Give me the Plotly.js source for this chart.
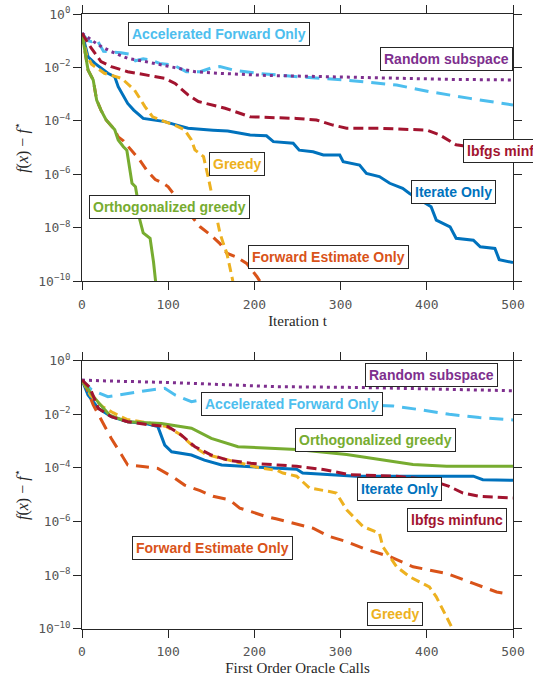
<!DOCTYPE html>
<html>
<head>
<meta charset="utf-8">
<script src="https://cdn.plot.ly/plotly-3.0.1.min.js"></script>
<style>html,body{margin:0;padding:0;background:#fff;}#plot{width:533px;height:677px;}</style>
</head>
<body>
<div id="plot"></div>
<script>
// ---------- Data (exponents: log10 of f(x) - f*) ----------
// Top panel: x = iteration t
var topIterateX = [0,7,15,30,38,42,53,60,71,96,110,123,152,169,195,214,222,245,252,268,280,299,303,322,330,345,357,372,380,405,411,427,434,454,462,479,484,500];
var topIterateE = [-0.72,-1.6,-1.85,-2.22,-2.35,-2.72,-3.35,-3.6,-3.91,-4.03,-4.16,-4.28,-4.35,-4.38,-4.53,-4.56,-4.78,-4.84,-5.1,-5.16,-5.28,-5.28,-5.53,-5.66,-5.97,-6.09,-6.34,-6.53,-6.72,-7.22,-7.72,-7.97,-8.4,-8.47,-8.72,-8.78,-9.2,-9.31];
var topForwardX = [0,3,7,13,17,22,28,38,42,48,55,67,75,85,94,100,110,125,137,150,160,168,179,191,203,212];
var topForwardE = [-0.72,-1.35,-2.1,-2.47,-3.22,-3.6,-3.97,-4.34,-4.6,-4.75,-5.0,-5.47,-5.85,-6.2,-6.34,-6.47,-6.9,-7.5,-7.97,-8.3,-8.6,-8.96,-9.1,-9.34,-9.84,-10.3];
var topAccelX = [0,7,11,17,25,35,45,55,62,71,80,90,106,121,137,150,160,176,203,250,303,365,403,450,500];
var topAccelE = [-0.72,-1.0,-1.04,-0.95,-1.4,-1.42,-1.45,-1.5,-1.75,-1.68,-1.72,-1.85,-1.91,-2.16,-2.16,-2.02,-1.97,-2.1,-2.22,-2.35,-2.47,-2.66,-2.91,-3.16,-3.41];
var topGreedyX = [0,5,11,26,46,61,73,82,96,110,119,127,131,141,147,154,160,164,168,175,178];
var topGreedyE = [-0.72,-1.5,-1.88,-2.22,-2.41,-2.85,-3.47,-3.85,-4.03,-4.2,-4.34,-4.72,-5.09,-5.34,-6.2,-7.3,-8.2,-8.6,-8.96,-10.0,-10.4];
var topOrthoX = [0,3,7,13,17,22,28,38,42,48,52,58,62,64,67,71,79,83,85,87];
var topOrthoE = [-0.72,-1.35,-2.1,-2.47,-3.22,-3.6,-3.97,-4.34,-4.72,-4.97,-5.1,-6.34,-6.47,-6.84,-7.7,-8.2,-8.4,-9.3,-10.0,-10.5];
var topRandomX = [0,10,19,34,53,73,92,111,131,158,214,287,365,430,500];
var topRandomE = [-0.72,-0.95,-1.16,-1.41,-1.66,-1.78,-1.91,-2.03,-2.16,-2.22,-2.3,-2.35,-2.41,-2.45,-2.47];
var topLbfgsX = [0,5,11,22,34,53,73,96,108,123,135,150,166,195,214,249,272,291,307,345,400,415,434,445,470,500];
var topLbfgsE = [-0.72,-1.0,-1.29,-1.78,-1.97,-2.16,-2.28,-2.41,-2.6,-3.03,-3.28,-3.41,-3.53,-3.85,-3.87,-3.91,-3.97,-4.16,-4.28,-4.28,-4.35,-4.53,-4.9,-4.95,-5.0,-5.05];

// Bottom panel: x = first order oracle calls
var botIterateX = [0,7,19,34,53,73,88,96,104,127,142,162,196,227,249,256,287,318,384,454,465,500];
var botIterateE = [-0.72,-1.28,-1.78,-2.09,-2.28,-2.34,-2.46,-3.15,-3.4,-3.52,-3.71,-3.89,-3.96,-4.02,-4.05,-4.19,-4.25,-4.31,-4.31,-4.31,-4.44,-4.46];
var botForwardX = [0,5,13,22,34,46,53,73,88,108,119,137,152,171,183,198,212,225,268,287,307,326,357,384,423,454,481,492];
var botForwardE = [-0.72,-1.0,-1.65,-2.21,-2.9,-3.52,-3.89,-3.96,-4.02,-4.39,-4.64,-4.85,-5.06,-5.19,-5.5,-5.65,-5.8,-5.9,-6.25,-6.56,-6.75,-7.0,-7.31,-7.69,-7.94,-8.31,-8.63,-8.69];
var botAccelX = [0,11,30,53,80,96,108,127,141,200,250,300,361,388,426,461,500];
var botAccelE = [-0.72,-1.09,-1.34,-1.22,-1.09,-1.03,-1.28,-1.53,-1.44,-1.5,-1.5,-1.6,-1.69,-1.81,-2.0,-2.12,-2.21];
var botGreedyX = [0,10,24,36,52,75,98,114,129,144,168,206,227,233,249,264,287,295,307,326,345,349,365,380,403,411,421,429,433];
var botGreedyE = [-0.72,-1.3,-1.72,-1.94,-2.19,-2.31,-2.46,-2.75,-3.19,-3.5,-3.69,-4.0,-4.1,-4.19,-4.31,-4.75,-4.88,-4.94,-5.56,-6.19,-6.44,-6.94,-7.69,-8.06,-8.44,-8.81,-9.44,-9.94,-10.2];
var botOrthoX = [0,11,21,32,53,92,127,150,181,214,249,307,345,384,423,500];
var botOrthoE = [-0.72,-1.25,-1.63,-2.03,-2.28,-2.34,-2.52,-2.9,-3.21,-3.27,-3.31,-3.5,-3.69,-3.87,-3.94,-3.94];
var botRandomX = [0,21,98,200,227,326,403,500];
var botRandomE = [-0.72,-0.75,-0.81,-0.94,-0.97,-1.0,-1.06,-1.12];
var botLbfgsX = [0,9,19,34,53,80,100,115,131,150,169,196,227,249,280,310,365,403,426,442,461,500];
var botLbfgsE = [-0.72,-1.0,-1.78,-2.09,-2.28,-2.4,-2.46,-2.77,-3.21,-3.52,-3.71,-3.83,-3.89,-3.94,-4.06,-4.25,-4.31,-4.44,-4.69,-4.94,-5.06,-5.12];

// Tick labels
var yTickExps = [-10,-8,-6,-4,-2,0];
var yTickText = ['10<sup>\u221210</sup>','10<sup>\u22128</sup>','10<sup>\u22126</sup>','10<sup>\u22124</sup>','10<sup>\u22122</sup>','10<sup>0</sup>'];
var xTickVals = [0,100,200,300,400,500];

// Series names / label texts
var seriesNames = ['Iterate Only','Forward Estimate Only','Accelerated Forward Only','Greedy','Orthogonalized greedy','Random subspace','lbfgs minfunc'];

// ---------- Styles ----------
var colors = {
  iterate:'#0072BD', forward:'#D95319', accel:'#4DBEEE', greedy:'#EDB120',
  ortho:'#77AC30', random:'#7E2F8E', lbfgs:'#A2142F'
};
function pw(v){ return v.map(function(e){ return Math.pow(10,e); }); }

function mk(x, e, color, dash, xa, ya, name){
  return {x:x, y:pw(e), type:'scatter', mode:'lines', name:name,
    line:{color:color, width:3, dash:dash}, xaxis:xa, yaxis:ya, hoverinfo:'skip'};
}

var traces = [
  mk(topIterateX, topIterateE, colors.iterate, 'solid', 'x', 'y', seriesNames[0]),
  mk(topForwardX, topForwardE, colors.forward, '11px,7px', 'x', 'y', seriesNames[1]),
  mk(topAccelX, topAccelE, colors.accel, '14px,8px', 'x', 'y', seriesNames[2]),
  mk(topGreedyX, topGreedyE, colors.greedy, '9px,5px', 'x', 'y', seriesNames[3]),
  mk(topOrthoX, topOrthoE, colors.ortho, 'solid', 'x', 'y', seriesNames[4]),
  mk(topRandomX, topRandomE, colors.random, '3px,4px', 'x', 'y', seriesNames[5]),
  mk(topLbfgsX, topLbfgsE, colors.lbfgs, '10px,5px', 'x', 'y', seriesNames[6]),
  mk(botIterateX, botIterateE, colors.iterate, 'solid', 'x2', 'y2', seriesNames[0]),
  mk(botForwardX, botForwardE, colors.forward, '13px,8px', 'x2', 'y2', seriesNames[1]),
  mk(botAccelX, botAccelE, colors.accel, '14px,8px', 'x2', 'y2', seriesNames[2]),
  mk(botGreedyX, botGreedyE, colors.greedy, '9px,5px', 'x2', 'y2', seriesNames[3]),
  mk(botOrthoX, botOrthoE, colors.ortho, 'solid', 'x2', 'y2', seriesNames[4]),
  mk(botRandomX, botRandomE, colors.random, '3px,4px', 'x2', 'y2', seriesNames[5]),
  mk(botLbfgsX, botLbfgsE, colors.lbfgs, '10px,5px', 'x2', 'y2', seriesNames[6])
];

var W = 533, H = 677;
function px(v){ return v / W; }
function py(v){ return 1 - v / H; }

var axisColor = '#262626';
var tickFont = {family:'DejaVu Sans Mono, monospace', size:13, color:'#555555'};
var titleFont = {family:'Liberation Serif, serif', size:15, color:'#262626'};

function xAxis(anchor, title){
  return {domain:[px(82), px(513)], anchor:anchor, range:[0,500], tickmode:'array', tickvals:xTickVals,
    ticks:'outside', ticklen:8, tickwidth:1, tickcolor:axisColor, showline:true, linecolor:axisColor,
    linewidth:1, mirror:'ticks', showgrid:false, zeroline:false, tickfont:tickFont, ticklabelstandoff:3,
    title:{text:title, font:titleFont, standoff:4}};
}
function yAxis(domain, anchor){
  return {domain:domain, anchor:anchor, type:'log', range:[-10,0], tickmode:'array',
    tickvals:pw(yTickExps), ticktext:yTickText, ticks:'outside', ticklen:8, tickwidth:1, tickcolor:axisColor,
    showline:true, linecolor:axisColor, linewidth:1, mirror:'ticks', showgrid:false, zeroline:false,
    tickfont:tickFont,
    title:{text:'<i>f</i>(<i>x</i>) \u2212 <i>f</i><sup>\u22c6</sup>', font:{family:'Liberation Serif, serif', size:16, color:'#262626'}, standoff:5}};
}

function label(text, color, left, top){
  return {text:'<b>'+text+'</b>', xref:'paper', yref:'paper', x:px(left), y:py(top),
    xanchor:'left', yanchor:'top', showarrow:false, bgcolor:'#ffffff', bordercolor:'#262626',
    borderwidth:1, borderpad:3, font:{family:'Liberation Sans, Arial, sans-serif', size:14, color:color}};
}

var annotations = [
  label('Accelerated Forward Only', colors.accel, 128, 22),
  label('Random subspace', colors.random, 380, 47),
  label('lbfgs minfunc', colors.lbfgs, 463, 139),
  label('Greedy', colors.greedy, 209, 152),
  label('Iterate Only', colors.iterate, 411, 180),
  label('Orthogonalized greedy', colors.ortho, 89, 195),
  label('Forward Estimate Only', colors.forward, 248, 245),
  label('Random subspace', colors.random, 365, 363),
  label('Accelerated Forward Only', colors.accel, 201, 392),
  label('Orthogonalized greedy', colors.ortho, 295, 428),
  label('Iterate Only', colors.iterate, 357, 477),
  label('lbfgs minfunc', colors.lbfgs, 407, 508),
  label('Forward Estimate Only', colors.forward, 132, 536),
  label('Greedy', colors.greedy, 367, 602)
];

var layout = {
  width:W, height:H, margin:{l:0, r:0, t:0, b:0}, showlegend:false,
  paper_bgcolor:'#ffffff', plot_bgcolor:'#ffffff',
  xaxis: xAxis('y', 'Iteration t'),
  yaxis: yAxis([py(281), py(14)], 'x'),
  xaxis2: xAxis('y2', 'First Order Oracle Calls'),
  yaxis2: yAxis([py(628.7), py(360.7)], 'x2'),
  annotations: annotations
};

Plotly.newPlot('plot', traces, layout, {staticPlot:true, displayModeBar:false});
</script>
</body>
</html>
